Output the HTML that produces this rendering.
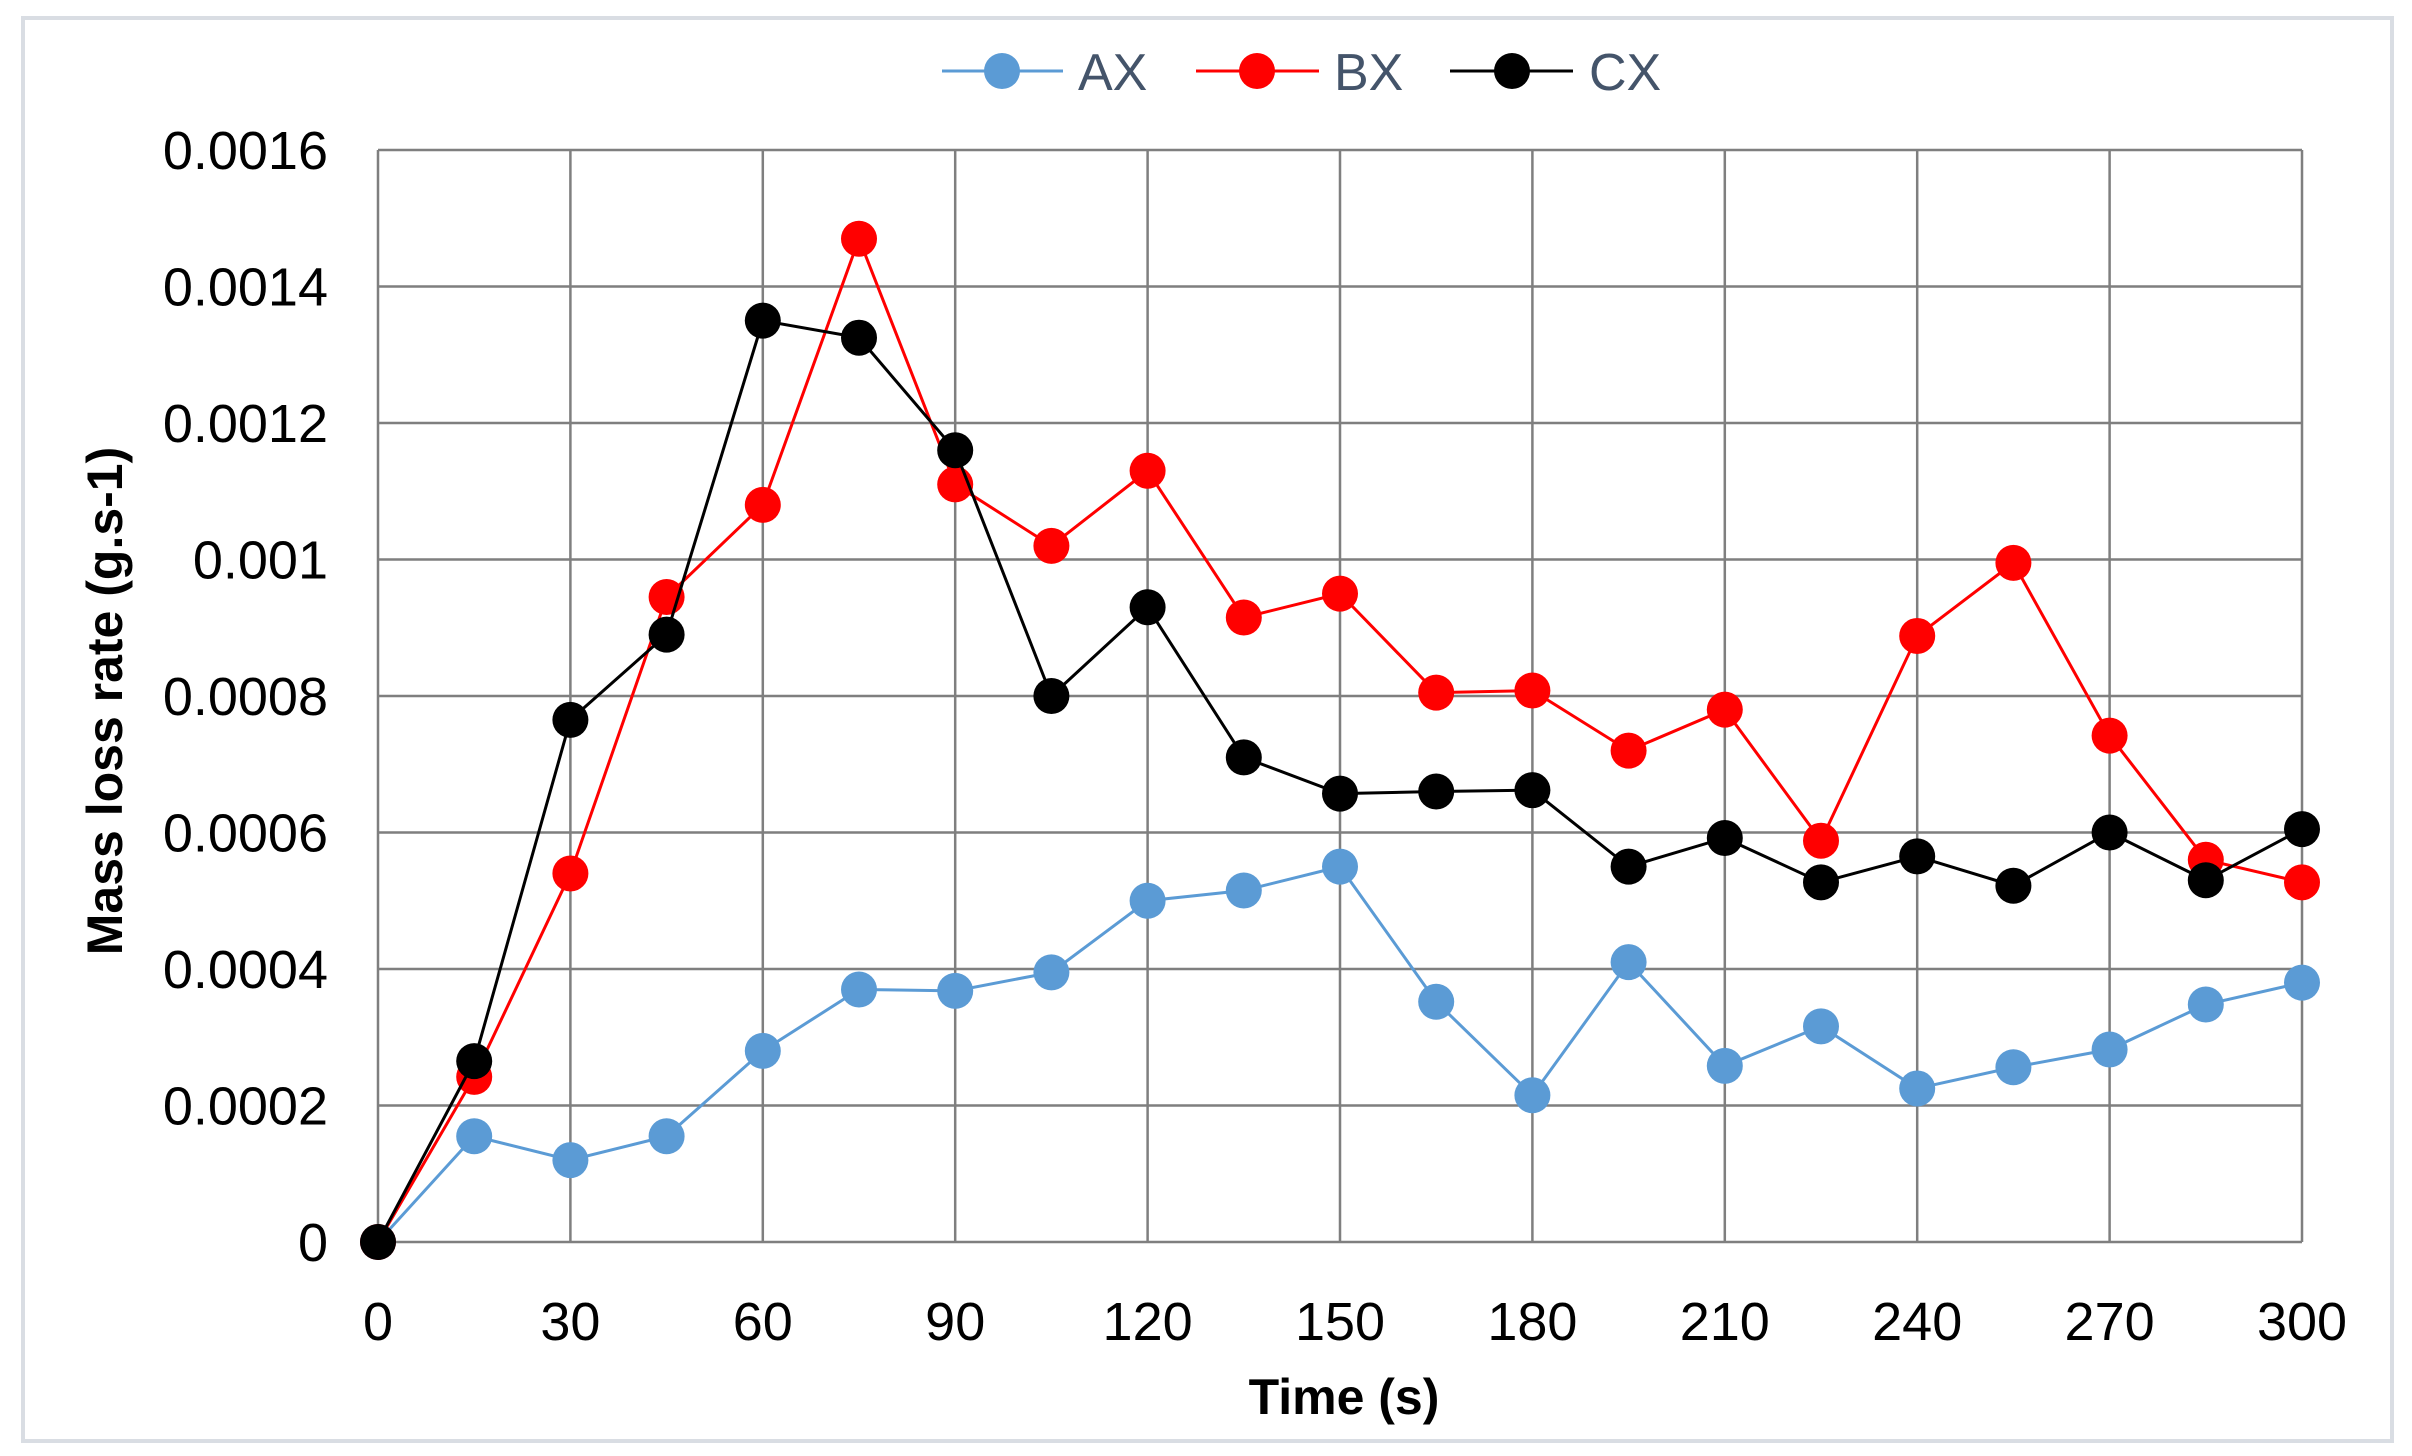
<!DOCTYPE html>
<html><head><meta charset="utf-8"><style>html,body{margin:0;padding:0;background:#fff}svg{display:block}</style></head>
<body>
<svg id="c" width="2412" height="1456" viewBox="0 0 2412 1456" xmlns="http://www.w3.org/2000/svg" font-family="Liberation Sans, sans-serif">
<rect x="23" y="18" width="2369" height="1423" fill="#fff" stroke="#d9dde3" stroke-width="4"/>
<g id="grid"></g>
<g id="series"></g>
<g font-size="52" fill="#44546a">
<line x1="942" y1="71" x2="1063" y2="71" stroke="#5b9bd5" stroke-width="3"/><circle cx="1002" cy="71" r="18" fill="#5b9bd5"/>
<text x="1078" y="90">AX</text>
<line x1="1196" y1="71" x2="1319" y2="71" stroke="#ff0000" stroke-width="3"/><circle cx="1257" cy="71" r="18" fill="#ff0000"/>
<text x="1334" y="90">BX</text>
<line x1="1450" y1="71" x2="1573" y2="71" stroke="#000" stroke-width="3"/><circle cx="1512" cy="71" r="18" fill="#000"/>
<text x="1589" y="90">CX</text>
</g>
<text x="1344" y="1414" font-size="50" font-weight="bold" text-anchor="middle" fill="#000">Time (s)</text>
<text transform="translate(122,701) rotate(-90)" font-size="50" font-weight="bold" text-anchor="middle" fill="#000">Mass loss rate (g.s-1)</text>
</svg>
<script>
var L=378,R=2302,T=150,B=1242;
function X(t){return L+(R-L)*t/300}function Y(v){return B-(B-T)*v/0.0016}
var g=document.getElementById('grid'),h='';
for(var i=0;i<=10;i++){var x=X(i*30);h+='<line x1="'+x+'" y1="'+T+'" x2="'+x+'" y2="'+B+'" stroke="#7f7f7f" stroke-width="2.5"/>';
h+='<text x="'+x+'" y="1340" font-size="54" text-anchor="middle" fill="#000">'+(i*30)+'</text>';}
var yl=['0','0.0002','0.0004','0.0006','0.0008','0.001','0.0012','0.0014','0.0016'];
for(var j=0;j<=8;j++){var y=Y(j*0.0002);h+='<line x1="'+L+'" y1="'+y+'" x2="'+R+'" y2="'+y+'" stroke="#7f7f7f" stroke-width="2.5"/>';
h+='<text x="328" y="'+(y+19)+'" font-size="54" text-anchor="end" fill="#000">'+yl[j]+'</text>';}
g.innerHTML=h;
var A=[0,0.000155,0.00012,0.000155,0.00028,0.00037,0.000368,0.000395,0.0005,0.000515,0.00055,0.000352,0.000215,0.00041,0.000258,0.000316,0.000225,0.000256,0.000282,0.000348,0.00038];
var Bx=[0,0.000242,0.00054,0.000945,0.00108,0.00147,0.00111,0.00102,0.00113,0.000915,0.00095,0.000805,0.000808,0.00072,0.00078,0.000588,0.000888,0.000995,0.000742,0.00056,0.000527];
var C=[0,0.000265,0.000765,0.00089,0.00135,0.001325,0.00116,0.0008,0.00093,0.00071,0.000657,0.00066,0.000662,0.00055,0.000592,0.000527,0.000565,0.000522,0.0006,0.00053,0.000605];
var s='';
[[A,'#5b9bd5'],[Bx,'#ff0000'],[C,'#000000']].forEach(function(p){
var pts=p[0].map(function(v,k){return X(k*15)+','+Y(v)}).join(' ');
s+='<polyline points="'+pts+'" fill="none" stroke="'+p[1]+'" stroke-width="3"/>';
p[0].forEach(function(v,k){s+='<circle cx="'+X(k*15)+'" cy="'+Y(v)+'" r="18" fill="'+p[1]+'"/>';});
});
document.getElementById('series').innerHTML=s;
</script>
</body></html>
